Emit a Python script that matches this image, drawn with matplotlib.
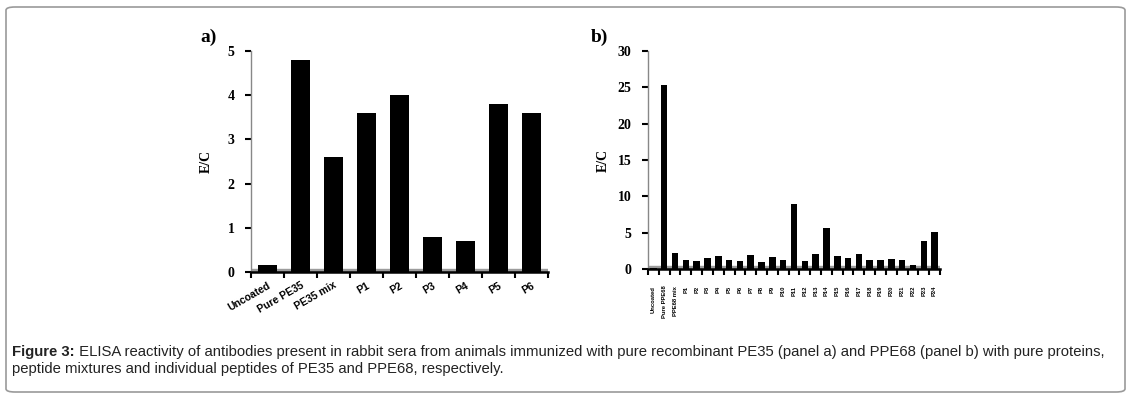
import matplotlib
matplotlib.use("Agg")
import matplotlib.pyplot as plt
from matplotlib.patches import FancyBboxPatch
import numpy as np

# panel a: PE35
labels_a = ["Uncoated", "Pure PE35", "PE35 mix", "P1", "P2", "P3", "P4", "P5", "P6"]
values_a = [0.15, 4.8, 2.6, 3.6, 4.0, 0.8, 0.7, 3.8, 3.6]

# panel b: PPE68
labels_b = ["Uncoated", "Pure PPE68", "PPE68 mix"] + [f"P{i}" for i in range(1, 25)]
values_b = [0.2, 25.3, 2.2, 1.3, 1.1, 1.5, 1.8, 1.3, 1.1, 1.9, 1.0, 1.7, 1.3,
            8.9, 1.1, 2.0, 5.6, 1.8, 1.5, 2.0, 1.3, 1.3, 1.4, 1.2, 0.5, 3.8, 5.1]

caption_bold = "Figure 3:"
caption_rest = (" ELISA reactivity of antibodies present in rabbit sera from animals immunized with pure "
                "recombinant PE35 (panel a) and PPE68 (panel b) with pure proteins,")
caption_line2 = "peptide mixtures and individual peptides of PE35 and PPE68, respectively."

W, H = 1131, 397
fig = plt.figure(figsize=(W / 100, H / 100), dpi=100)

# rounded frame around the figure
frame = FancyBboxPatch((6 / W, 5 / H), (W - 12) / W, (H - 12) / H,
                       boxstyle="round,pad=0,rounding_size=0.008",
                       transform=fig.transFigure, facecolor="none",
                       edgecolor="#9a9a9a", linewidth=1.2)
fig.patches.append(frame)


def draw_panel(rect, labels, values, ymax, ystep, label_size, rotation, tag, tag_xy, ylab_x, width):
    ax = fig.add_axes(rect)
    x = np.arange(len(labels))
    ax.bar(x, values, width=width, color="black", zorder=3)
    # grey floor under the bars
    ax.axhspan(0, ymax * 0.012, color="#9c9c9c", zorder=2)
    ax.set_xlim(-0.5, len(labels) - 0.5)
    ax.set_ylim(0, ymax)
    ax.set_yticks(np.arange(0, ymax + 0.01, ystep))
    ax.set_xticks(np.arange(-0.5, len(labels)), minor=False)
    ax.set_xticklabels([])
    ax.set_xticks(x, minor=True)
    ax.set_xticklabels(labels, minor=True, rotation=rotation,
                       ha="right" if rotation != 90 else "center",
                       va="top", rotation_mode="anchor" if rotation != 90 else "default",
                       fontsize=label_size, fontweight="bold", family="Liberation Sans")
    ax.tick_params(axis="x", which="minor", length=0, pad=6 if rotation != 90 else 12)
    ax.tick_params(axis="x", which="major", length=4, width=1.5, direction="out")
    ax.tick_params(axis="y", length=4, width=1.5, direction="out", pad=8)
    for t in ax.get_yticklabels():
        t.set_fontfamily("Liberation Serif")
        t.set_fontweight("bold")
        t.set_fontsize(10)
    for s in ("top", "right"):
        ax.spines[s].set_visible(False)
    ax.spines["left"].set_color("#888888")
    ax.spines["left"].set_linewidth(1.0)
    ax.spines["bottom"].set_linewidth(1.8)
    ax.set_ylabel("E/C", family="Liberation Serif", fontweight="bold", fontsize=10)
    ax.yaxis.set_label_coords(ylab_x, 0.5)
    fig.text(tag_xy[0] / W, 1 - tag_xy[1] / H, tag, family="Liberation Serif",
             fontweight="bold", fontsize=14, va="center", ha="left")
    return ax


draw_panel([251 / W, 1 - 272 / H, 297 / W, 221 / H], labels_a, values_a, 5, 1,
           7.5, 30, "a)", (200, 37), -0.13, 0.58)
draw_panel([648 / W, 1 - 269 / H, 292 / W, 218 / H], labels_b, values_b, 30, 5,
           4.2, 90, "b)", (591, 37), -0.13, 0.6)

# caption
t1 = fig.text(12 / W, 1 - 352 / H, caption_bold, fontsize=10.75, fontweight="bold",
              family="Liberation Sans", va="center", color="#222222")
fig.canvas.draw()
bb = t1.get_window_extent()
fig.text(bb.x1 / W, 1 - 352 / H, caption_rest, fontsize=10.75,
         family="Liberation Sans", va="center", color="#222222")
fig.text(12 / W, 1 - 369 / H, caption_line2, fontsize=10.75,
         family="Liberation Sans", va="center", color="#222222")

fig.savefig("out.png", dpi=100)
